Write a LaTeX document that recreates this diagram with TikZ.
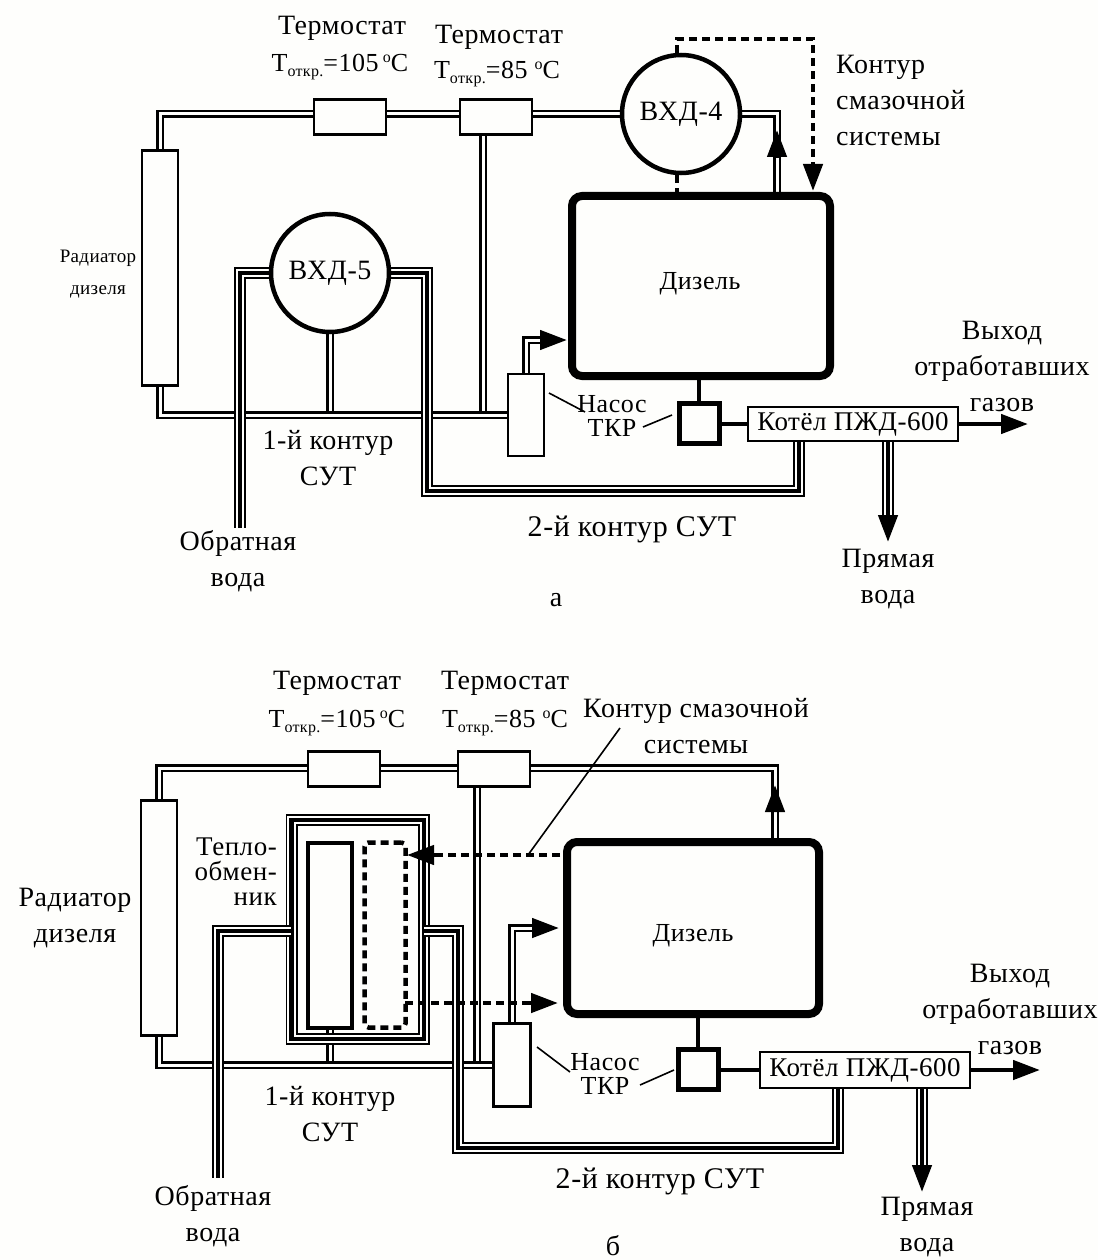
\documentclass[tikz,border=0pt]{standalone}
\usepackage{fontspec}
\setmainfont[LetterSpace=2]{Liberation Serif}
\usetikzlibrary{arrows.meta,backgrounds}
\tikzset{
    pipe/.style={draw=black, line width=2.4pt, double=paperColour, double distance=3pt},
    water/.style={preaction={draw=black, line width=12pt}, preaction={draw=paperColour, line width=8.5pt}, draw=black, line width=4.5pt},
    oil/.style={draw=black, line width=4.5pt, dash pattern=on 8pt off 5pt},
    lead/.style={draw=black, line width=1.6pt},
    heavy/.style={draw=black, line width=4.5pt},
    unit/.style={draw=black, line width=2.4pt, fill=paperColour, inner sep=0pt},
    engine/.style={draw=black, line width=8pt, rounded corners=10pt, fill=paperColour, inner sep=0pt},
    pumpwheel/.style={circle, draw=black, line width=4.5pt, fill=paperColour, inner sep=0pt},
    tag/.style={inner sep=0pt, align=center, font=\fontsize{28}{36}\selectfont},
    tagsmall/.style={inner sep=0pt, align=center, font=\fontsize{19}{32}\selectfont},
    tagtemp/.style={inner sep=0pt, align=center, font=\fontsize{26}{36}\selectfont},
    tip/.style={draw=black, line width=4.5pt, -{Triangle[length=27pt,width=19pt]}}
}
\newcommand{\Topen}{Т\raisebox{-5pt}{\fontsize{16}{16}\selectfont откр.}}
\newcommand{\degC}{\raisebox{9pt}{\fontsize{16}{16}\selectfont o}C}
\begin{document}
\begin{tikzpicture}[x=1pt, y=-1pt]
    \definecolor{paperColour}{HTML}{FEFEFC}

    % Fix the page
    \useasboundingbox (0,0) rectangle (1098,1260);

    % Upper scheme: units
    \node[unit, minimum width=72, minimum height=35] (thermoOneA) at (350,117) {};
    \node[unit, minimum width=72, minimum height=35] (thermoTwoA) at (496,117) {};
    \node[unit, minimum width=36, minimum height=235] (radiatorA) at (160,268) {};
    \node[pumpwheel, minimum size=118, tag] (pumpFourA) at (681,114) {\raisebox{-3pt}{ВХД-4}};
    \node[pumpwheel, minimum size=118, tag] (pumpFiveA) at (330,273) {\raisebox{-4pt}{ВХД-5}};
    \node[engine, minimum width=258, minimum height=180] (dieselA) at (701,286) {};
    \node[tag, font=\fontsize{26}{36}\selectfont] at (700,284) {Дизель};
    \node[unit, minimum width=36, minimum height=82] (feedA) at (526,415) {};
    \node[unit, line width=5pt, minimum width=40, minimum height=40] (turboA) at (699,423) {};
    \node[unit, minimum width=210, minimum height=34, tag] (boilerA) at (853,424) {\fontsize{27}{30}\selectfont Котёл ПЖД-600};

    % Upper scheme: pipes under the units
    \coordinate (oilTurnA) at (677,39);
    \coordinate (oilDropA) at (813,39);
    \coordinate (topJointA) at (483,115);
    \coordinate (lowJointA) at (483,415);
    \coordinate (midJointA) at (330,415);
    \coordinate (exitBackA) at (240,528);
    \coordinate (loopLeftA) at (427,491);
    \coordinate (loopRightA) at (799,491);
    \coordinate (straightEndA) at (888,515);
    \begin{scope}[on background layer]
        \fill[paperColour] (0,0) rectangle (1098,1260);
        \draw[pipe] (topJointA) -- (lowJointA);
        \draw[pipe] (pumpFiveA.south) -- (midJointA);
        \draw[pipe] (radiatorA.north) |- (pumpFourA.west);
        \draw[pipe] (radiatorA.south) |- (feedA.west);
        \draw[pipe] (pumpFourA.east) -| (777,195);
        \draw[pipe] (feedA.north) |- (548,340);
        \draw[water] (pumpFiveA.west) -| (exitBackA);
        \draw[water] (pumpFiveA.east) -| (loopLeftA) -- (loopRightA) -- (boilerA.south -| loopRightA);
        \draw[water] (boilerA.south -| straightEndA) -- (straightEndA);
    \end{scope}

    % Upper scheme: links and arrows
    \draw[heavy] (dieselA.south -| turboA) -- (turboA.north);
    \draw[heavy] (turboA.east |- boilerA.west) -- (boilerA.west);
    \draw[tip] (boilerA.east) -- (1028,424);
    \draw[tip] (straightEndA) -- (888,542);
    \draw[tip] (777,158) -- (777,130);
    \draw[tip] (545,340) -- (567,340);
    \draw[oil] (pumpFourA.north -| oilTurnA) -- (oilTurnA) -- (oilDropA) -- (813,166);
    \draw[oil] (pumpFourA.south -| oilTurnA) -- (677,192);
    \draw[tip] (813,164) -- (813,191);

    % Upper scheme: texts
    \node[tag] at (342,28) {Термостат};
    \node[tagtemp] at (340,67) {\Topen=105\,\degC};
    \node[tag] at (499,37) {Термостат};
    \node[tagtemp] at (497,74) {\Topen=85 \degC};
    \node[tag, align=left, anchor=west] at (836,100) {Контур\\смазочной\\системы};
    \node[tagsmall] at (98,274) {Радиатор\\дизеля};
    \node[tag] at (1002,366) {Выход\\отработавших\\газов};
    \node[tag, font=\fontsize{26}{24}\selectfont] at (612,416) {Насос\\ТКР};
    \node[tag] at (328,458) {1-й контур\\СУТ};
    \node[tag, font=\fontsize{30}{36}\selectfont] at (632,529) {2-й контур СУТ};
    \node[tag] at (238,561) {Обратная\\вода};
    \node[tag] at (888,579) {Прямая\\вода};
    \node[tag] at (556,600) {а};
    \coordinate (feedLeadA) at (549,393);
    \coordinate (feedLeadEndA) at (585,412);
    \coordinate (turboLeadA) at (672,415);
    \coordinate (turboLeadEndA) at (643,427);
    \draw[lead] (feedLeadA) -- (feedLeadEndA);
    \draw[lead] (turboLeadA) -- (turboLeadEndA);

    % Lower scheme: units
    \node[unit, minimum width=72, minimum height=35] (thermoOneB) at (344,769) {};
    \node[unit, minimum width=72, minimum height=35] (thermoTwoB) at (494,769) {};
    \node[unit, minimum width=36, minimum height=235] (radiatorB) at (159,918) {};
    \node[draw=black, line width=4pt, fill=paperColour, inner sep=0pt, minimum width=44, minimum height=185] (coreB) at (330,935) {};
    \node[oil, rounded corners=4pt, inner sep=0pt, minimum width=41, minimum height=185] (oilCoreB) at (385,935) {};
    \node[unit, minimum width=37, minimum height=83] (feedB) at (512,1065) {};
    \node[engine, minimum width=252, minimum height=172] (dieselB) at (693,928) {};
    \node[tag, font=\fontsize{26}{36}\selectfont] at (693,936) {Дизель};
    \node[unit, line width=5pt, minimum width=40, minimum height=40] (turboB) at (698,1069) {};
    \node[unit, minimum width=210, minimum height=36, tag] (boilerB) at (865,1070) {\fontsize{27}{30}\selectfont Котёл ПЖД-600};

    % Lower scheme: pipes under the units
    \coordinate (topJointB) at (477,768);
    \coordinate (lowJointB) at (477,1068);
    \coordinate (midJointB) at (330,1068);
    \coordinate (exitBackB) at (218,1178);
    \coordinate (shellLeftB) at (291,931);
    \coordinate (shellRightB) at (424,931);
    \coordinate (loopLeftB) at (458,1148);
    \coordinate (loopRightB) at (838,1148);
    \coordinate (straightEndB) at (922,1168);
    \begin{scope}[on background layer]
        \draw[pipe] (topJointB) -- (lowJointB);
        \draw[pipe] (coreB.south) -- (midJointB);
        \draw[pipe] (radiatorB.north) |- (775,768) -- (775,838);
        \draw[pipe] (radiatorB.south) |- (feedB.west);
        \draw[pipe] (feedB.north) |- (535,928);
        \draw[water] (291.5,820) rectangle (424,1039);
        \draw[water] (shellLeftB) -| (exitBackB);
        \draw[water] (shellRightB) -| (loopLeftB) -- (loopRightB) -- (boilerB.south -| loopRightB);
        \draw[water] (boilerB.south -| straightEndB) -- (straightEndB);
    \end{scope}

    % Lower scheme: links and arrows
    \draw[heavy] (dieselB.south -| turboB) -- (turboB.north);
    \draw[heavy] (turboB.east |- boilerB.west) -- (boilerB.west);
    \draw[tip] (boilerB.east) -- (1040,1070);
    \draw[tip] (straightEndB) -- (922,1192);
    \draw[tip] (775,812) -- (775,785);
    \draw[tip] (532,928) -- (559,928);
    \draw[oil] (560,855) -- (428,855);
    \draw[tip] (435,855) -- (407,855);
    \draw[oil] (405,1003) -- (535,1003);
    \draw[tip] (530,1003) -- (558,1003);

    % Lower scheme: texts
    \node[tag] at (337,683) {Термостат};
    \node[tagtemp] at (337,723) {\Topen=105\,\degC};
    \node[tag] at (505,683) {Термостат};
    \node[tagtemp] at (505,723) {\Topen=85 \degC};
    \node[tag] at (696,726) {Контур смазочной\\системы};
    \node[tag] at (75,918) {Радиатор\\дизеля};
    \node[tag, align=right, anchor=east, font=\fontsize{27}{25}\selectfont] at (277,872) {Тепло-\\обмен-\\ник};
    \node[tag] at (1010,1009) {Выход\\отработавших\\газов};
    \node[tag, font=\fontsize{26}{24}\selectfont] at (605,1074) {Насос\\ТКР};
    \node[tag] at (330,1114) {1-й контур\\СУТ};
    \node[tag, font=\fontsize{30}{36}\selectfont] at (660,1181) {2-й контур СУТ};
    \node[tag] at (213,1216) {Обратная\\вода};
    \node[tag] at (927,1227) {Прямая\\вода};
    \node[tag] at (613,1246) {б};
    \coordinate (oilLeadB) at (528,855);
    \coordinate (oilLeadEndB) at (620,728);
    \coordinate (feedLeadB) at (537,1047);
    \coordinate (feedLeadEndB) at (570,1072);
    \coordinate (turboLeadB) at (674,1070);
    \coordinate (turboLeadEndB) at (640,1085);
    \draw[lead] (oilLeadB) -- (oilLeadEndB);
    \draw[lead] (feedLeadB) -- (feedLeadEndB);
    \draw[lead] (turboLeadB) -- (turboLeadEndB);
\end{tikzpicture}
\end{document}
